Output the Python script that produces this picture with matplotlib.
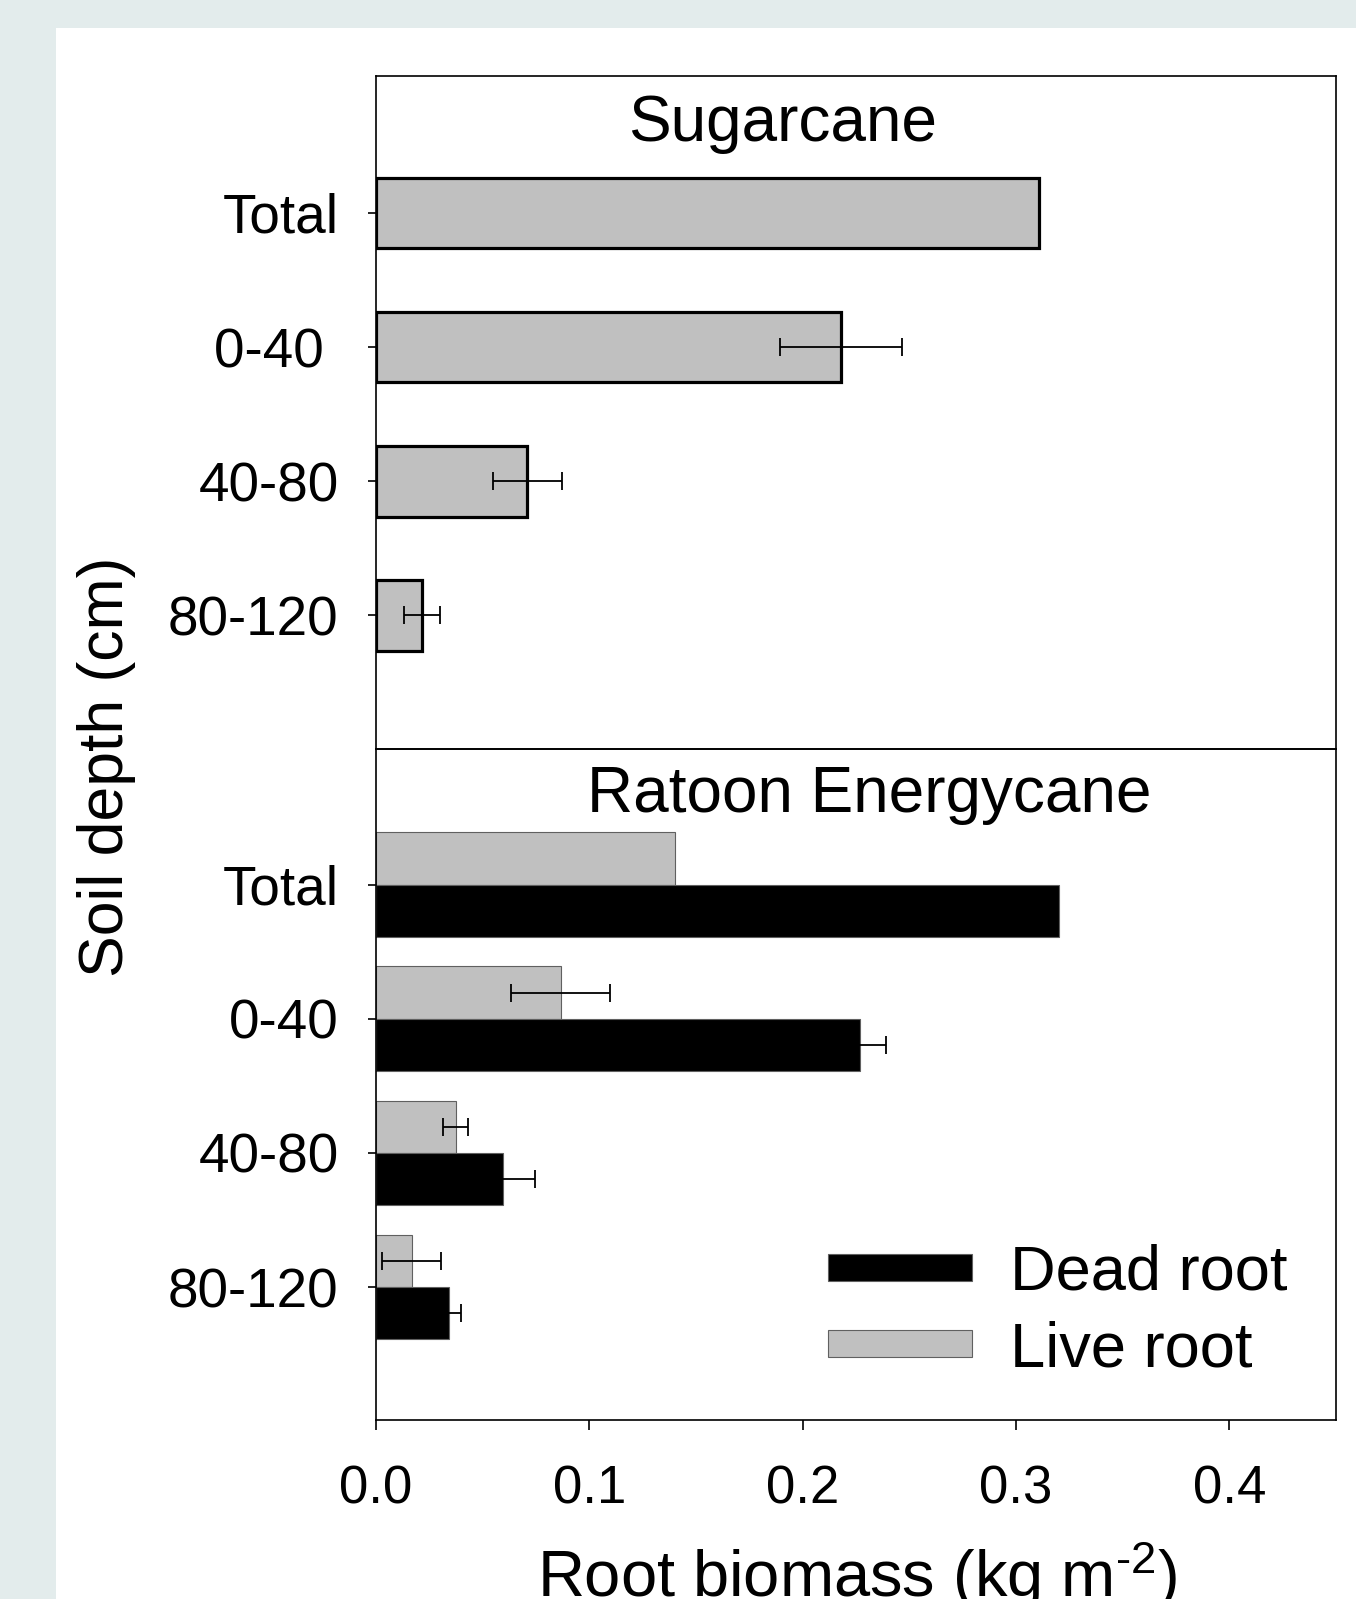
import matplotlib
matplotlib.use("Agg")
import matplotlib.pyplot as plt
from matplotlib.patches import Rectangle, Patch
import numpy as np

plt.rcParams['font.family'] = ['Liberation Sans', 'DejaVu Sans']
plt.rcParams['mathtext.fontset'] = 'custom'
plt.rcParams['mathtext.rm'] = 'Liberation Sans'
plt.rcParams['mathtext.it'] = 'Liberation Sans'

# ---- data ----
depths_top = ["Total", "0-40 ", "40-80", "80-120"]
depths_bot = ["Total", "0-40", "40-80", "80-120"]
sugar_vals = [0.311, 0.218, 0.071, 0.0215]
sugar_err = [np.nan, 0.0285, 0.016, 0.0086]
ratoon_live = [0.140, 0.0865, 0.0373, 0.0167]
ratoon_live_err = [np.nan, 0.023, 0.006, 0.014]
ratoon_dead = [0.320, 0.227, 0.0593, 0.034]
ratoon_dead_err = [np.nan, 0.012, 0.015, 0.006]
xticks = [0.0, 0.1, 0.2, 0.3, 0.4]
xticklabels = ["0.0", "0.1", "0.2", "0.3", "0.4"]

W, H = 1356, 1599
fig = plt.figure(figsize=(W / 100, H / 100), dpi=100)
fig.patch.set_facecolor('#e3ecec')
fig.patches.append(Rectangle((56 / W, 0), 1, 1 - 27.5 / H, transform=fig.transFigure,
                             facecolor='white', edgecolor='none', zorder=-5))

L, R = 376, 1336
T, D, B = 76.5, 749, 1420
ax1 = fig.add_axes([L / W, 1 - D / H, (R - L) / W, (D - T) / H])
ax2 = fig.add_axes([L / W, 1 - B / H, (R - L) / W, (B - D) / H])
for ax in (ax1, ax2):
    ax.set_zorder(2)
    ax.patch.set_alpha(0)

grey = '#c0c0c0'
pos = np.arange(4)
tfs = 39.5

# Top panel
ax1.barh(pos, sugar_vals, height=0.525, color=grey, edgecolor='black', linewidth=2.3, zorder=2)
ax1.errorbar(sugar_vals, pos, xerr=sugar_err, fmt='none', ecolor='black',
             elinewidth=1.3, capsize=6.8, capthick=1.3, zorder=3)
ax1.set_ylim(3.995, -1.017)
ax1.set_xlim(0, 0.45)
ax1.set_yticks(pos)
ax1.set_yticklabels(depths_top, fontsize=tfs)
ax1.tick_params(axis='y', direction='out', length=6, width=1.2, pad=21)
ax1.tick_params(axis='x', bottom=False, labelbottom=False)
ax1.text(783, 1599 - 141, "Sugarcane", transform=None, fontsize=46,
         ha='center', va='baseline')

# Bottom panel
bh = 0.39
ax2.barh(pos - bh / 2, ratoon_live, height=bh, color=grey, edgecolor='#606060', linewidth=0.8, zorder=2)
ax2.barh(pos + bh / 2, ratoon_dead, height=bh, color='black', edgecolor='#606060', linewidth=0.8, zorder=2)
ax2.errorbar(ratoon_live, pos - bh / 2, xerr=ratoon_live_err, fmt='none', ecolor='black',
             elinewidth=1.3, capsize=6.8, capthick=1.3, zorder=3)
ax2.errorbar(ratoon_dead, pos + bh / 2, xerr=ratoon_dead_err, fmt='none', ecolor='black',
             elinewidth=1.3, capsize=6.8, capthick=1.3, zorder=3)
ax2.set_ylim(3.99, -1.01)
ax2.set_xlim(0, 0.45)
ax2.set_yticks(pos)
ax2.set_yticklabels(depths_bot, fontsize=tfs)
ax2.set_xticks(xticks)
ax2.set_xticklabels(xticklabels, fontsize=38)
ax2.tick_params(axis='y', direction='out', length=6, width=1.2, pad=21)
ax2.tick_params(axis='x', direction='out', length=7, width=1.2, pad=25)
ax2.text(869, 1599 - 812, "Ratoon Energycane", transform=None, fontsize=46,
         ha='center', va='baseline')

for ax in (ax1, ax2):
    for s in ax.spines.values():
        s.set_linewidth(1.2)

handles = [Patch(facecolor='black', edgecolor='#606060', linewidth=0.8),
           Patch(facecolor=grey, edgecolor='#606060', linewidth=0.8)]
ax2.legend(handles, ["Dead root", "Live root"], fontsize=45.5, frameon=False,
           loc='upper left', bbox_to_anchor=(828 / W, 1 - 1244 / H),
           bbox_transform=fig.transFigure, borderpad=0, borderaxespad=0,
           handlelength=2.28, handleheight=0.29, handletextpad=0.6, labelspacing=0.27)

fig.text(107 / W, 1 - 767 / H, "Soil depth (cm)", rotation=90, fontsize=45,
         ha='center', va='center')
fig.text(857 / W, 2 / H, r"Root biomass (kg m$^{\text{-2}}$)", fontsize=46.8,
         ha='center', va='baseline')

fig.savefig("out.png", dpi=100, facecolor=fig.get_facecolor())
